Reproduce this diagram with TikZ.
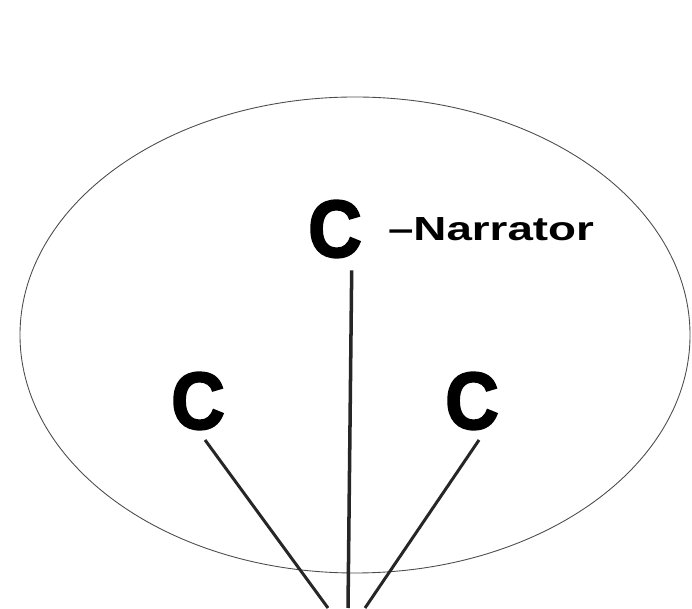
\documentclass[tikz,border=0pt]{standalone}
\usepackage{fontspec}
\setmainfont{Liberation Sans}
\newfontfamily\heavyfont[FakeBold=2.5]{Liberation Sans Bold}
\usepackage{tikz}
\usepackage{xcolor}

\begin{document}
\begin{tikzpicture}[charnode/.style={shape=rectangle, inner sep=0pt, xscale=0.92, font=\fontsize{46}{46}\heavyfont}, tieline/.style={line width=1.7pt, black!85}]
	% Paths, nodes and wires:
	\useasboundingbox (0, 0) rectangle (13.84, 12.16);
	\draw[line width=0.5pt, black!70] (7.1, 5.46) ellipse [x radius=6.7cm, y radius=4.76cm];
	\node[charnode](Ctop) at (6.7, 7.58){C};
	\node[charnode](Cleft) at (3.96, 4.14){C};
	\node[charnode](Cright) at (9.44, 4.14){C};
	\node[shape=rectangle, inner sep=0pt, xscale=1.37, font=\fontsize{19}{19}\selectfont\bfseries](N1) at (9.82, 7.58){--Narrator};
	\coordinate (B1) at (6.56, 0);
	\coordinate (B2) at (6.96, 0);
	\coordinate (B3) at (7.3, 0);
	\draw[tieline, line width=2pt] ([xshift=9.5pt, yshift=-0.25cm]Ctop.south) -- (B2);
	\draw[tieline] ([xshift=4pt, yshift=-0.2cm]Cleft.south) -- (B1);
	\draw[tieline] ([xshift=4pt, yshift=-0.2cm]Cright.south) -- (B3);
\end{tikzpicture}
\end{document}
